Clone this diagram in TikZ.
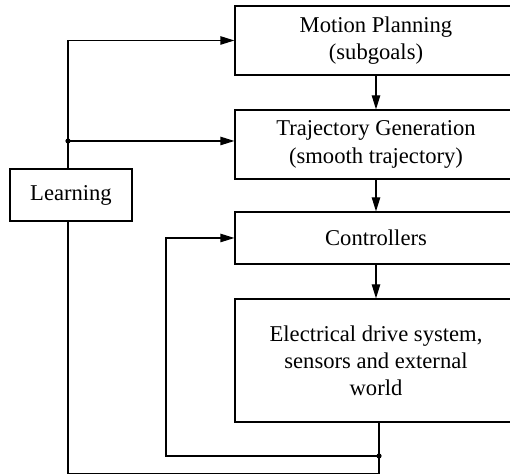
\documentclass[tikz,border=0pt]{standalone}
\usepackage{fontspec}
\setmainfont{Liberation Serif}
\usetikzlibrary{arrows.meta, positioning, calc}

\tikzset{
  block/.style={draw, line width=0.6pt, inner sep=0pt, align=center,
                minimum width=141pt, font=\fontsize{11.3}{13.6}\selectfont},
  link/.style={line width=0.6pt},
  tip/.style={-{Triangle[length=7pt, width=4.2pt]}},
}

\begin{document}
\begin{tikzpicture}[x=0.5pt, y=0.5pt, >=Stealth]
  \useasboundingbox (0,0) rectangle (510,474);

  % Blocks
  \node[block, minimum height=34.5pt] (plan) at (376,433.5)
    {Motion Planning\\(subgoals)};
  \node[block, minimum height=34.5pt] (traj) at (376,329.5)
    {Trajectory Generation\\(smooth trajectory)};
  \node[block, minimum height=26pt] (ctrl) at (376,236) {Controllers};
  \node[block, minimum height=61.5pt] (drive) at (376,113.5)
    {Electrical drive system,\\sensors and external\\world};
  \node[block, minimum width=61pt, minimum height=26pt] (learn) at (71,279)
    {Learning};

  % Branch points
  \coordinate (jl) at (68,333);
  \coordinate (jd) at (379,18);
  \coordinate (fb) at (166,18);
  \coordinate (bot) at (68,0.5);

  % Forward chain
  \draw[link, tip] (plan) -- (traj);
  \draw[link, tip] (traj) -- (ctrl);
  \draw[link, tip] (ctrl) -- (drive);

  % Learning outputs
  \draw[link, tip] (learn.north -| jl) |- (plan.west);
  \draw[link, tip] (jl) -- (traj.west |- jl);
  \fill (jl) circle (1.3pt);

  % Feedback loops
  \draw[link] (drive.south -| jd) |- (bot) -- (learn.south -| bot);
  \draw[link, tip] (jd) -- (fb) |- (ctrl.west);
  \fill (jd) circle (1.3pt);
\end{tikzpicture}
\end{document}
